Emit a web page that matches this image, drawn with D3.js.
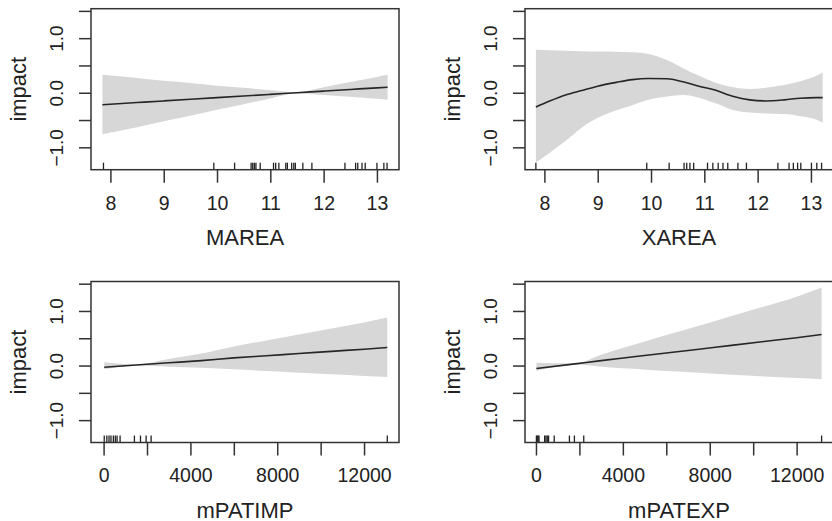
<!DOCTYPE html>
<meta charset="utf-8">
<script src="https://d3js.org/d3.v7.min.js"></script>
<body style="margin:0;background:#fff">
<div id="chart"></div>
</body>
<style>
  text { font-family: "Liberation Sans", Arial, sans-serif; fill: #222; }
</style>
<script>
// ---- data ----
var mareaX     = [7.85, 8.5, 9.0, 9.5, 10.0, 10.5, 11.0, 11.5, 12.0, 12.5, 13.0, 13.2];
var mareaFit   = [-0.22, -0.18, -0.15, -0.12, -0.09, -0.06, -0.03, 0.0, 0.03, 0.06, 0.09, 0.10];
var mareaLow   = [-0.76, -0.63, -0.52, -0.42, -0.31, -0.21, -0.105, -0.01, -0.04, -0.075, -0.11, -0.13];
var mareaUp    = [0.33, 0.27, 0.22, 0.18, 0.13, 0.09, 0.045, 0.01, 0.10, 0.195, 0.29, 0.33];
var mareaRug   = [7.87, 9.94, 10.33, 10.64, 10.67, 10.70, 10.73, 10.81, 11.06, 11.10, 11.16, 11.29, 11.32,
                  11.40, 11.44, 11.47, 11.61, 11.78, 12.40, 12.60, 12.64, 12.72, 12.78, 13.0, 13.13, 13.19];

var xareaX     = [7.84, 8.1, 8.4, 8.7, 9.0, 9.35, 9.65, 9.95, 10.3, 10.6, 10.9, 11.2, 11.55, 11.85, 12.15, 12.5, 12.8, 13.1, 13.22];
var xareaFit   = [-0.26, -0.15, -0.04, 0.04, 0.12, 0.19, 0.24, 0.26, 0.256, 0.20, 0.12, 0.05, -0.07, -0.13, -0.15, -0.13, -0.10, -0.09, -0.09];
var xareaLow   = [-1.28, -1.10, -0.88, -0.64, -0.46, -0.32, -0.23, -0.13, -0.07, -0.04, -0.09, -0.19, -0.32, -0.36, -0.38, -0.39, -0.43, -0.49, -0.55];
var xareaUp    = [0.79, 0.78, 0.77, 0.76, 0.755, 0.75, 0.74, 0.71, 0.60, 0.45, 0.31, 0.19, 0.10, 0.07, 0.09, 0.14, 0.21, 0.31, 0.37];
var xareaRug   = [7.84, 9.92, 10.34, 10.62, 10.67, 10.73, 10.80, 11.06, 11.16, 11.26, 11.35, 11.44, 11.63, 11.79,
                  12.38, 12.59, 12.67, 12.75, 12.81, 13.01, 13.11, 13.20];

var impX       = [30, 1500, 3000, 4500, 6000, 7500, 9000, 10500, 12000, 13070];
var impFit     = [-0.03, 0.01, 0.05, 0.09, 0.14, 0.18, 0.22, 0.26, 0.30, 0.33];
var impLow     = [-0.07, 0.0, -0.02, -0.04, -0.07, -0.10, -0.13, -0.16, -0.19, -0.21];
var impUp      = [0.06, 0.02, 0.12, 0.22, 0.35, 0.46, 0.57, 0.68, 0.79, 0.88];
var impRug     = [30, 150, 250, 340, 450, 540, 620, 760, 1420, 1700, 1960, 2190, 13070];

var expX       = [20, 1800, 3000, 4500, 6000, 7500, 9000, 10500, 12000, 13150];
var expFit     = [-0.055, 0.03, 0.09, 0.16, 0.23, 0.30, 0.37, 0.44, 0.51, 0.57];
var expLow     = [-0.10, 0.02, -0.02, -0.06, -0.10, -0.13, -0.17, -0.20, -0.23, -0.25];
var expUp      = [0.05, 0.04, 0.20, 0.38, 0.56, 0.73, 0.91, 1.08, 1.26, 1.43];
var expRug     = [20, 60, 100, 140, 400, 460, 520, 580, 840, 1540, 1770, 2200, 13150];

var areaTicks  = [8, 9, 10, 11, 12, 13];
var patTicks   = [0, 2000, 4000, 6000, 8000, 10000, 12000];
var patLabels  = [0, 4000, 8000, 12000];
var yTicks     = [-1.0, -0.5, 0.0, 0.5, 1.0, 1.5];
var yLabels    = [-1.0, 0.0, 1.0];

// ---- layout ----
var W = 832, H = 521;
var svg = d3.select("#chart").append("svg").attr("width", W).attr("height", H);

var panels = [
  {name: "MAREA",   left: 91,  top: 8.7,   xdom: [7.636, 13.414], xs: mareaX, fit: mareaFit, lo: mareaLow, hi: mareaUp, rug: mareaRug, ticks: areaTicks, labels: areaTicks},
  {name: "XAREA",   left: 525, top: 8.7,   xdom: [7.636, 13.414], xs: xareaX, fit: xareaFit, lo: xareaLow, hi: xareaUp, rug: xareaRug, ticks: areaTicks, labels: areaTicks},
  {name: "mPATIMP", left: 91,  top: 281.5, xdom: [-580, 13610],   xs: impX,   fit: impFit,   lo: impLow,   hi: impUp,   rug: impRug,   ticks: patTicks,  labels: patLabels},
  {name: "mPATEXP", left: 525, top: 281.5, xdom: [-505, 13675],   xs: expX,   fit: expFit,   lo: expLow,   hi: expUp,   rug: expRug,   ticks: patTicks,  labels: patLabels}
];
var pw = 308, ph = 161;

panels.forEach(function(p) {
  var g = svg.append("g").attr("transform", "translate(" + p.left + "," + p.top + ")");
  var x = d3.scaleLinear().domain(p.xdom).range([0, pw]);
  var y = d3.scaleLinear().domain([-1.41, 1.54]).range([ph, 0]);

  var rows = p.xs.map(function(v, i) { return {x: v, f: p.fit[i], lo: p.lo[i], hi: p.hi[i]}; });

  // confidence band
  g.append("path")
    .datum(rows)
    .attr("fill", "#d7d7d7")
    .attr("d", d3.area().x(function(d) { return x(d.x); })
      .y0(function(d) { return y(d.lo); }).y1(function(d) { return y(d.hi); })
      .curve(d3.curveMonotoneX));

  // fitted smooth
  g.append("path")
    .datum(rows)
    .attr("fill", "none")
    .attr("stroke", "#262626")
    .attr("stroke-width", 1.6)
    .attr("d", d3.line().x(function(d) { return x(d.x); }).y(function(d) { return y(d.f); })
      .curve(d3.curveMonotoneX));

  // rug
  g.selectAll(".rug").data(p.rug).enter().append("line")
    .attr("x1", function(d) { return x(d); }).attr("x2", function(d) { return x(d); })
    .attr("y1", ph).attr("y2", ph - 7)
    .attr("stroke", "#222").attr("stroke-width", 1.3);

  // box
  g.append("rect").attr("width", pw).attr("height", ph)
    .attr("fill", "none").attr("stroke", "#333").attr("stroke-width", 1.5);

  // x axis
  var xa = g.append("g").attr("transform", "translate(0," + ph + ")")
    .call(d3.axisBottom(x).tickValues(p.ticks).tickSize(13).tickPadding(13)
      .tickFormat(function(d) { return p.labels.indexOf(d) >= 0 ? d : ""; }));
  xa.select(".domain").remove();
  xa.selectAll("line").attr("stroke", "#333").attr("stroke-width", 1.5);
  xa.selectAll("text").attr("font-size", 19.5).attr("font-family", null);

  // y axis
  var ya = g.append("g")
    .call(d3.axisLeft(y).tickValues(yTicks).tickSize(12).tickPadding(0)
      .tickFormat(function(d) { return yLabels.indexOf(d) >= 0 ? d3.format(".1f")(d) : ""; }));
  ya.select(".domain").remove();
  ya.selectAll("line").attr("stroke", "#333").attr("stroke-width", 1.5);
  ya.selectAll("text")
    .attr("font-size", 19).attr("font-family", null)
    .attr("text-anchor", "middle").attr("dy", null)
    .attr("x", 0).attr("y", 0)
    .attr("transform", "translate(-35,0) rotate(-90) translate(0,7)");

  // titles
  g.append("text").attr("x", pw / 2).attr("y", ph + 75)
    .attr("text-anchor", "middle").attr("font-size", 22).text(p.name);
  g.append("text")
    .attr("transform", "translate(-73," + (ph / 2) + ") rotate(-90)")
    .attr("dy", "0.35em")
    .attr("text-anchor", "middle").attr("font-size", 22).text("impact");
});
</script>
